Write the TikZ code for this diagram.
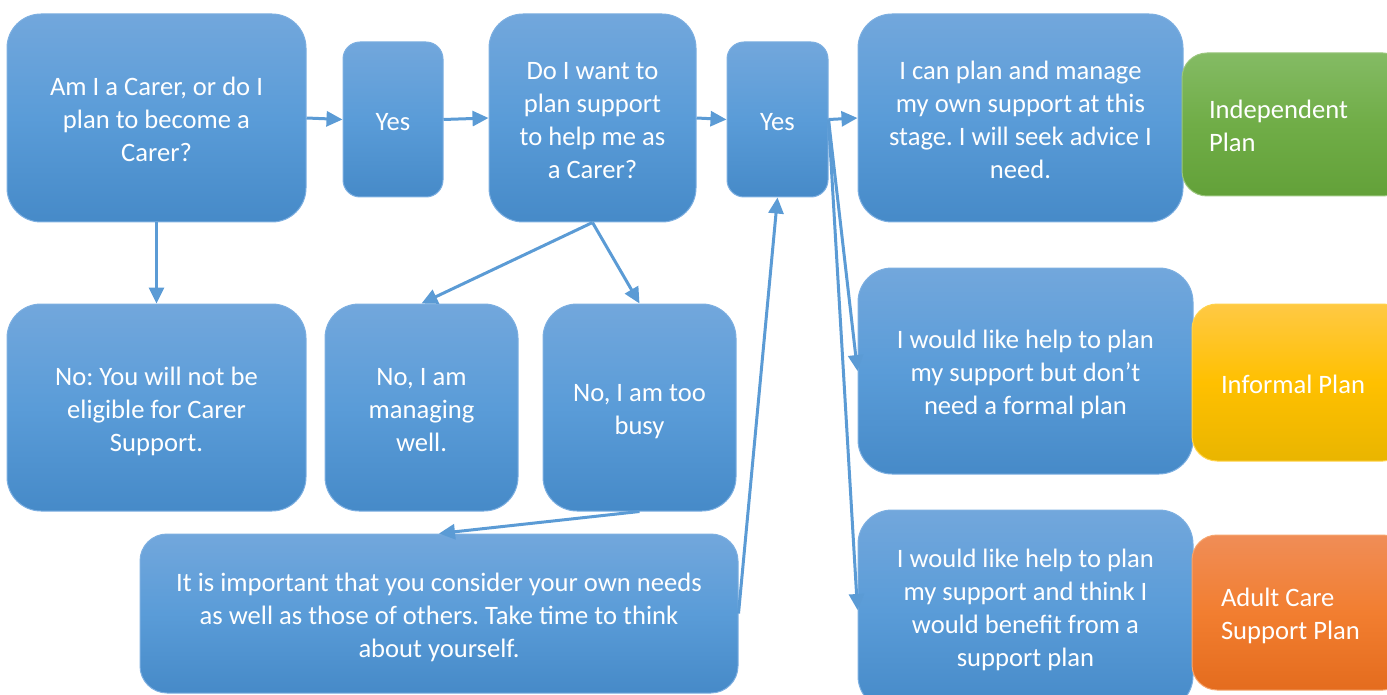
\documentclass[tikz,border=0pt]{standalone}
\usepackage{fontspec}
\setmainfont{Carlito}
\usepackage{xcolor}
\usetikzlibrary{arrows.meta}
\usetikzlibrary{math}
\frenchspacing

\definecolor{bluetop}{RGB}{114,167,220}
\definecolor{bluemid}{RGB}{90,156,216}
\definecolor{bluebot}{RGB}{70,138,200}
\definecolor{boxedge}{RGB}{125,175,225}
\definecolor{flowblue}{RGB}{91,155,213}
\definecolor{greentop}{RGB}{132,187,100}
\definecolor{greenmid}{RGB}{112,173,71}
\definecolor{greenbot}{RGB}{99,161,57}
\definecolor{yellowtop}{RGB}{255,201,68}
\definecolor{yellowmid}{RGB}{255,192,0}
\definecolor{yellowbot}{RGB}{233,181,0}
\definecolor{orangetop}{RGB}{240,141,87}
\definecolor{orangemid}{RGB}{242,126,48}
\definecolor{orangebot}{RGB}{228,108,30}

\newcommand{\boxfont}{\fontsize{26.6}{33}\selectfont}

\tikzset{
  % fixed text height so every text block sits the same way in its box
  boxtext/.style={font=\boxfont, text=white, inner sep=0pt, text height=30pt},
  qbox/.style={boxtext, draw=boxedge, line width=1pt, rounded corners=#1,
    top color=bluetop, bottom color=bluebot, middle color=bluemid,
    align=flush center},
  qbox/.default=34,
  planbox/.style={boxtext, draw=#1mid!70!white, line width=1pt, rounded corners=25,
    top color=#1top, bottom color=#1bot, middle color=#1mid,
    align=flush left},
  flow/.style={draw=flowblue, line width=3pt, -{Triangle[length=16pt,width=15pt]}},
}

\begin{document}
\begin{tikzpicture}[x=1pt,y=-1pt]

  \tikzmath{
    \rbig   = 34; % corner radius of the large boxes
    \rsmall = 17; % corner radius of the two yes boxes
    \rwide  = 27; % corner radius of the long box at the bottom
    \lskip  = 33; % distance between two text lines
    \done   = 8.5;             % text depth, one line
    \dtwo   = \lskip + 8.5;    % two lines
    \dthree = 2*\lskip + 8.5;  % three lines
    \dfour  = 3*\lskip + 8.5;  % four lines
    \dlow   = 3*\lskip + 16.5; % four lines, a bit higher up in the box
  }

  % page size, the plan boxes run off the right edge
  \useasboundingbox (0,0) rectangle (1387,695);
  \clip (0,0) rectangle (1387,695);

  % top row: questions and answers
  \node[qbox=\rbig, minimum width=299pt, minimum height=208pt, text width=279pt, text depth=\dthree pt]
    (carer) at (156.5,118) {Am I a Carer, or do I\\plan to become a\\Carer?};
  \node[qbox=\rsmall, minimum width=100pt, minimum height=155pt, text width=80pt, text depth=\done pt]
    (yes1) at (393,119.5) {Yes};
  \node[qbox=\rbig, minimum width=207pt, minimum height=208pt, text width=187pt, text depth=\dfour pt]
    (dowant) at (592.5,118) {Do I want to\\plan support\\to help me as\\a Carer?};
  \node[qbox=\rsmall, minimum width=101pt, minimum height=155pt, text width=81pt, text depth=\done pt]
    (yes2) at (777.5,119.5) {Yes};
  \node[qbox=\rbig, minimum width=325pt, minimum height=208pt, text width=305pt, text depth=\dfour pt]
    (ownplan) at (1020.5,118) {I can plan and manage\\my own support at this\\stage. I will seek advice I\\need.};

  % second row: the no answers
  \node[qbox=\rbig, minimum width=299pt, minimum height=207pt, text width=279pt, text depth=\dthree pt]
    (noteligible) at (156.5,407.5) {No: You will not be\\eligible for Carer\\Support.};
  \node[qbox=\rbig, minimum width=193pt, minimum height=207pt, text width=173pt, text depth=\dthree pt]
    (managing) at (421.5,407.5) {No, I am\\managing\\well.};
  \node[qbox=\rbig, minimum width=193pt, minimum height=207pt, text width=173pt, text depth=\dtwo pt]
    (busy) at (639.5,407.5) {No, I am too\\busy};
  \node[qbox=\rwide, minimum width=598pt, minimum height=159pt, text width=578pt, text depth=\dthree pt]
    (important) at (439,613.5) {It is important that you consider your own needs\\as well as those of others. Take time to think\\about yourself.};

  % help with planning
  \node[qbox=\rbig, minimum width=335pt, minimum height=206pt, text width=315pt, text depth=\dthree pt]
    (formal) at (1025.5,371) {I would like help to plan\\my support but don’t\\need a formal plan};
  \node[qbox=\rbig, minimum width=335pt, minimum height=200pt, text width=315pt, text depth=\dlow pt]
    (supportplan) at (1025.5,610) {I would like help to plan\\my support and think I\\would benefit from a\\support plan};

  % resulting plans
  \node[planbox=green, minimum width=226pt, minimum height=143pt, text width=172pt, text depth=\dtwo pt]
    (indep) at (1295,124.5) {Independent\\Plan};
  \node[planbox=yellow, minimum width=216pt, minimum height=157pt, text width=158pt, text depth=\done pt]
    (informal) at (1300,382.5) {Informal Plan};
  \node[planbox=orange, minimum width=216pt, minimum height=155pt, text width=158pt, text depth=\dtwo pt]
    (adult) at (1300,612.5) {Adult Care\\Support Plan};

  % arrows
  \draw[flow] (carer.east) -- (yes1.west);
  \draw[flow] (yes1.east) -- (dowant.west);
  \draw[flow] (dowant.east) -- (yes2.west);
  \draw[flow] (yes2.east) -- (ownplan.west);
  \draw[flow] (carer.south) -- (noteligible.north);
  \draw[flow] (dowant.south) -- (managing.north);
  \draw[flow] (dowant.south) -- (busy.north);
  \draw[flow] (busy.south) -- (important.north);
  \draw[flow] (important.east) -- (yes2.south);
  \draw[flow] (yes2.east) -- (formal.west);
  \draw[flow] (yes2.east) -- (supportplan.west);

\end{tikzpicture}
\end{document}
